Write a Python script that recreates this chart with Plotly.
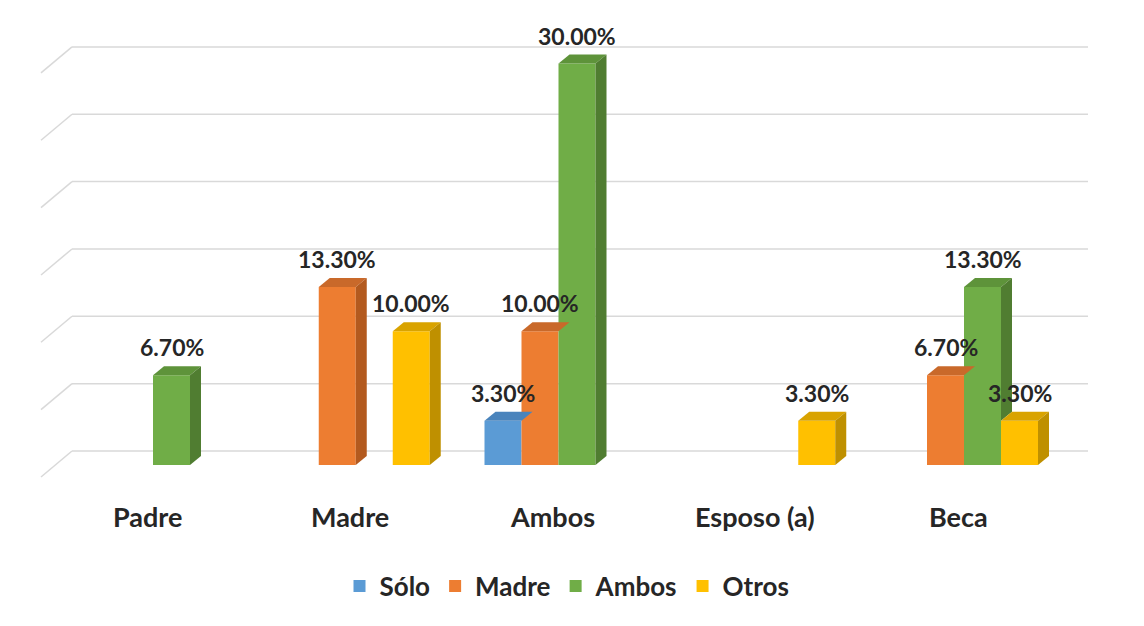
import plotly.graph_objects as go

# ---- data ----
categories = ["Padre", "Madre", "Ambos", "Esposo (a)", "Beca"]
series_names = ["Sólo", "Madre", "Ambos", "Otros"]
solo = [None, None, 3.3, None, None]
madre = [None, 13.3, 10.0, None, 6.7]
ambos = [6.7, None, 30.0, None, 13.3]
otros = [None, 10.0, None, 3.3, 3.3]
gridvals = [0, 5, 10, 15, 20, 25, 30]

series_values = [solo, madre, ambos, otros]
front_colors = ["#5B9BD5", "#ED7D31", "#70AD47", "#FFC000"]
top_colors = ["#4A84BC", "#C9692A", "#5E933A", "#D9A300"]
side_colors = ["#3F6F9E", "#B35A1F", "#507D31", "#BF9000"]

# ---- geometry (in axis units) ----
BODY = 8               # html body margin offset
px_x = 202.75          # pixels per category
px_y = 13.38           # pixels per percent
bw = 0.1825            # bar width in category units
dx = 11 / px_x         # 3D depth offset
dy = 9 / px_y
back_off = 14 / px_y
back_scale = 13.47 / 13.38
diag_dx = 31 / px_x
diag_dy = 26 / px_y

FONT = "Lato"
TXT = "#262626"

fig = go.Figure()

# front faces as bars
for s, (name, vals) in enumerate(zip(series_names, series_values)):
    xs = [i + (s - 1.5) * bw for i in range(len(categories))]
    fig.add_trace(go.Bar(
        x=xs, y=vals, width=bw,
        name=f"<b>{name}</b>", marker=dict(color=front_colors[s], line=dict(width=0)),
        hoverinfo="skip",
    ))

# 3D top and side faces
for i in range(len(categories)):
    for s in range(len(series_names)):
        v = series_values[s][i]
        if v is None:
            continue
        x0 = i + (s - 1.5) * bw - bw / 2
        x1 = x0 + bw
        fig.add_trace(go.Scatter(
            x=[x0, x1, x1 + dx, x0 + dx, x0], y=[v, v, v + dy, v + dy, v],
            fill="toself", fillcolor=top_colors[s], mode="lines",
            line=dict(width=0, color=top_colors[s]), showlegend=False, hoverinfo="skip"))
        nxt = series_values[s + 1][i] if s + 1 < len(series_names) else None
        base = nxt if nxt is not None else 0
        if base < v:
            fig.add_trace(go.Scatter(
                x=[x1, x1, x1 + dx, x1 + dx, x1], y=[base, v, v + dy, base + dy, base],
                fill="toself", fillcolor=side_colors[s], mode="lines",
                line=dict(width=0, color=side_colors[s]), showlegend=False, hoverinfo="skip"))
        fig.add_annotation(
            x=x0 + bw / 2, y=v, yshift=28, yanchor="middle", xanchor="center",
            text=f"<b>{v:.2f}%</b>", showarrow=False,
            font=dict(family=FONT, size=23, color=TXT))

# grid on the back wall + left wall diagonals
x_left = (72 - 153) / px_x
x_right = (1088 - 153) / px_x
for g in gridvals:
    yb = g * back_scale + back_off
    fig.add_shape(type="line", xref="x", yref="y", x0=x_left, x1=x_right, y0=yb, y1=yb,
                  line=dict(color="#D9D9D9", width=1.5), layer="below")
    fig.add_shape(type="line", xref="x", yref="y", x0=x_left, x1=x_left - diag_dx,
                  y0=yb, y1=yb - diag_dy,
                  line=dict(color="#D9D9D9", width=1.5), layer="below")

# layout in target pixels (compensating body margin)
plot_top = 20
plot_bottom = 490
plot_h = plot_bottom - plot_top
ml = 30
plot_w = 1074

for i, c in enumerate(categories):
    fig.add_annotation(
        x=i, xref="x", y=-(516 - plot_bottom) / plot_h, yref="paper",
        xshift=-6, yanchor="middle", xanchor="center", showarrow=False,
        text=f"<b>{c}</b>", font=dict(family=FONT, size=27, color=TXT))

xa = -(153 - ml) / px_x
xb = xa + plot_w / px_x
ymax = (465 - plot_top) / px_y
ymin = -(plot_bottom - 465) / px_y

fig.update_layout(
    width=1144, height=626,
    margin=dict(l=ml - BODY, r=1144 - ml - plot_w + BODY, t=plot_top - BODY,
                b=626 - plot_bottom + BODY, pad=0),
    paper_bgcolor="white", plot_bgcolor="white",
    barmode="overlay",
    xaxis=dict(range=[xa, xb], showgrid=False, zeroline=False, showticklabels=False,
               showline=False, ticks=""),
    yaxis=dict(range=[ymin, ymax], showgrid=False, zeroline=False, showticklabels=False,
               showline=False, ticks=""),
    showlegend=True,
    legend=dict(orientation="h", x=0.5, xanchor="center", y=-(586 - plot_bottom) / plot_h,
                yanchor="middle", yref="paper",
                font=dict(family=FONT, size=26, color=TXT), traceorder="normal",
                itemclick=False),
    font=dict(family=FONT),
)

fig.write_html("out.html")
